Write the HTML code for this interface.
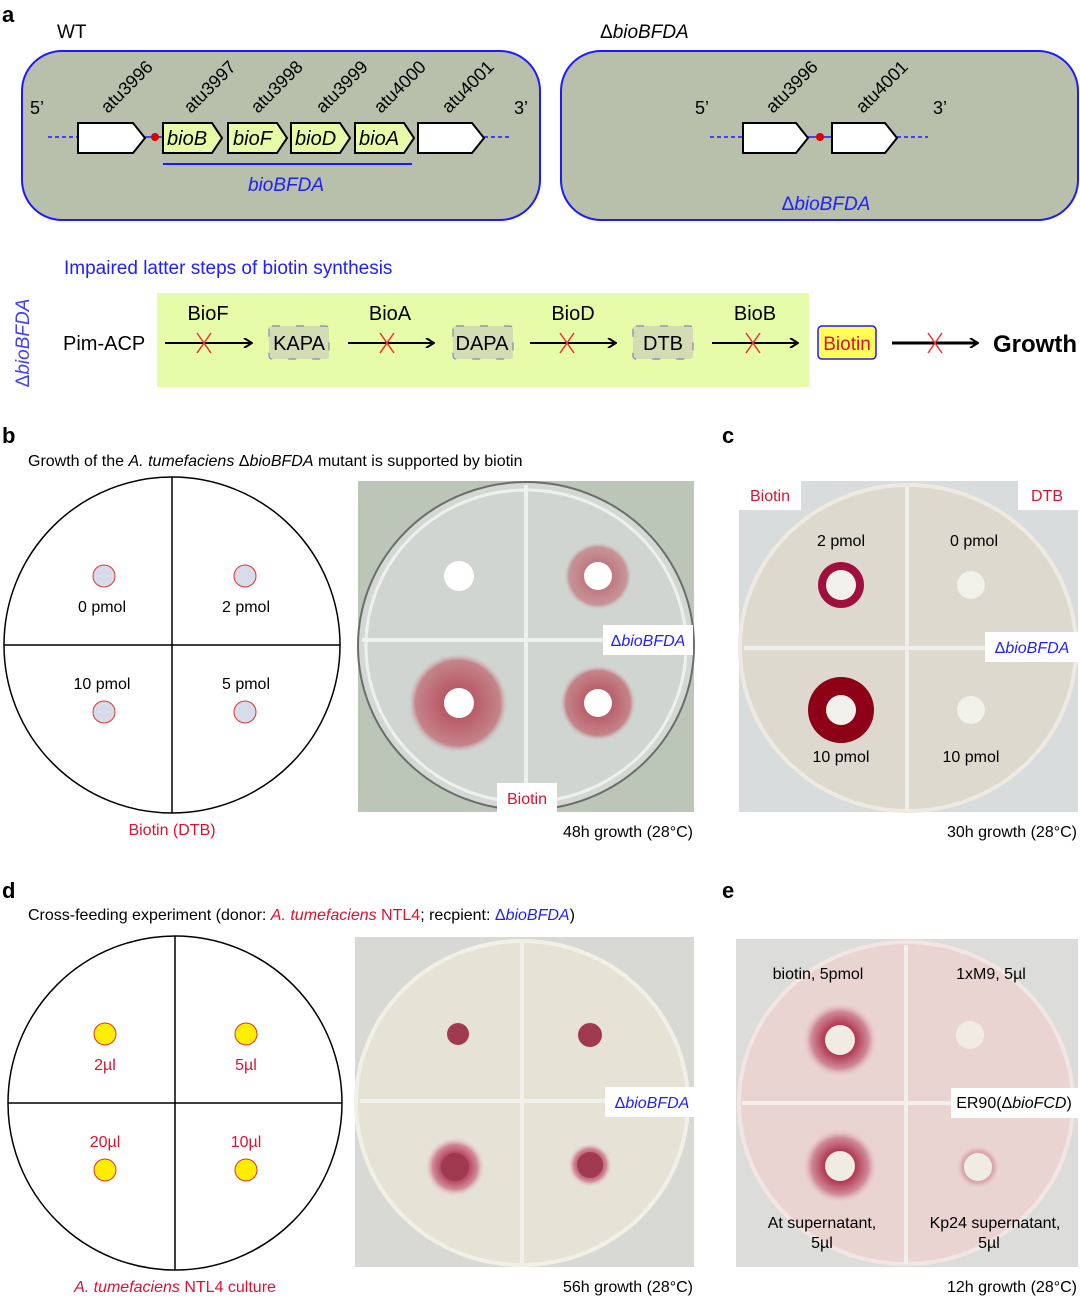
<!DOCTYPE html>
<html><head><meta charset="utf-8"><style>
html,body{margin:0;padding:0;background:#fff}
svg{display:block;font-family:"Liberation Sans",Arial,sans-serif}
</style></head><body>
<svg width="1080" height="1298" viewBox="0 0 1080 1298" xmlns="http://www.w3.org/2000/svg">
<defs>
<radialGradient id="halo1"><stop offset="0.3" stop-color="#b85a66"/><stop offset="0.85" stop-color="#c4848a"/><stop offset="1" stop-color="#d0c8c8" stop-opacity="0"/></radialGradient>
<radialGradient id="haloE"><stop offset="0.3" stop-color="#a8203f"/><stop offset="0.75" stop-color="#d08a98"/><stop offset="1" stop-color="#ecd6d6" stop-opacity="0"/></radialGradient>
<marker id="ah" markerWidth="10" markerHeight="10" refX="9" refY="5" orient="auto" markerUnits="userSpaceOnUse"><path d="M1,0 L9,5 L1,10" fill="none" stroke="#000" stroke-width="2"/></marker>
</defs>
<!-- Panel a -->
<text x="2" y="22" font-size="22" font-weight="bold">a</text>
<text x="57" y="38" font-size="19">WT</text>
<text x="600" y="38" font-size="19">Δ<tspan font-style="italic">bioBFDA</tspan></text>
<rect x="22" y="51" width="518" height="169" rx="40" fill="#b8bfaa" stroke="#1a1aff" stroke-width="2"/>
<rect x="561" y="51" width="517" height="169" rx="40" fill="#b8bfaa" stroke="#1a1aff" stroke-width="2"/>
<g stroke="#1a1aff" stroke-width="1.5" stroke-dasharray="4,3"><line x1="48" y1="137" x2="78" y2="137"/><line x1="484" y1="137" x2="510" y2="137"/><line x1="710" y1="137" x2="743" y2="137"/><line x1="897" y1="137" x2="928" y2="137"/></g>
<g stroke="#1a1aff" stroke-width="1.5"><line x1="145" y1="137" x2="163" y2="137"/><line x1="808" y1="137" x2="832" y2="137"/></g>
<g stroke="#000" stroke-width="2">
<polygon points="78,123 133,123 145,138 133,153 78,153" fill="#fff"/>
<polygon points="163,123 212,123 222,138 212,153 163,153" fill="#e6fca9"/>
<polygon points="228,123 277,123 287,138 277,153 228,153" fill="#e6fca9"/>
<polygon points="291,123 340,123 350,138 340,153 291,153" fill="#e6fca9"/>
<polygon points="355,123 404,123 414,138 404,153 355,153" fill="#e6fca9"/>
<polygon points="418,123 472,123 484,138 472,153 418,153" fill="#fff"/>
<polygon points="743,123 796,123 808,138 796,153 743,153" fill="#fff"/>
<polygon points="832,123 885,123 897,138 885,153 832,153" fill="#fff"/>
</g>
<circle cx="155" cy="137" r="4" fill="#d00"/><circle cx="820" cy="137" r="4" fill="#d00"/>
<g font-size="20" font-style="italic"><text x="167" y="145">bioB</text><text x="233" y="145">bioF</text><text x="295" y="145">bioD</text><text x="359" y="145">bioA</text></g>
<line x1="163" y1="164" x2="412" y2="164" stroke="#1a1aff" stroke-width="2"/>
<text x="286" y="191" font-size="19" font-style="italic" fill="#2020ff" text-anchor="middle">bioBFDA</text>
<text x="826" y="210" font-size="19" fill="#2020ff" text-anchor="middle">Δ<tspan font-style="italic">bioBFDA</tspan></text>
<g font-size="18"><text x="30" y="114">5’</text><text x="514" y="114">3’</text><text x="695" y="114">5’</text><text x="933" y="114">3’</text>
<text transform="translate(108,114) rotate(-45)">atu3996</text>
<text transform="translate(191,114) rotate(-45)">atu3997</text>
<text transform="translate(258,114) rotate(-45)">atu3998</text>
<text transform="translate(323,114) rotate(-45)">atu3999</text>
<text transform="translate(381,114) rotate(-45)">atu4000</text>
<text transform="translate(449,114) rotate(-45)">atu4001</text>
<text transform="translate(773,114) rotate(-45)">atu3996</text>
<text transform="translate(863,114) rotate(-45)">atu4001</text></g>
<!-- pathway -->
<text x="64" y="274" font-size="19" fill="#2020ff">Impaired latter steps of biotin synthesis</text>
<rect x="157" y="293" width="652" height="94" fill="#e6fca9"/>
<text transform="translate(29,343) rotate(-90)" font-size="19" fill="#4040ff" text-anchor="middle">Δ<tspan font-style="italic">bioBFDA</tspan></text>
<text x="63" y="350" font-size="20">Pim-ACP</text>
<g font-size="20" text-anchor="middle"><text x="208" y="320">BioF</text><text x="390" y="320">BioA</text><text x="573" y="320">BioD</text><text x="755" y="320">BioB</text></g>
<g stroke="#000" stroke-width="2" marker-end="url(#ah)"><line x1="165" y1="343" x2="252" y2="343"/><line x1="348" y1="343" x2="434" y2="343"/><line x1="530" y1="343" x2="616" y2="343"/><line x1="712" y1="343" x2="798" y2="343"/><line x1="892" y1="343" x2="978" y2="343" stroke-width="3"/></g>
<g stroke="#f03030" stroke-width="1.5"><path d="M197,333 L211,353 M211,333 L197,353"/><path d="M380,333 L394,353 M394,333 L380,353"/><path d="M560,333 L574,353 M574,333 L560,353"/><path d="M746,333 L760,353 M760,333 L746,353"/><path d="M928,333 L942,353 M942,333 L928,353"/></g>
<g fill="#d4dcb4" stroke="#7a8abb" stroke-dasharray="8,16" stroke-width="1.2"><rect x="269" y="326" width="60" height="33" rx="3"/><rect x="453" y="326" width="60" height="33" rx="3"/><rect x="633" y="326" width="60" height="33" rx="3"/></g>
<g font-size="20" text-anchor="middle"><text x="299" y="350">KAPA</text><text x="482" y="350">DAPA</text><text x="663" y="350">DTB</text></g>
<rect x="818" y="326" width="58" height="33" rx="4" fill="#ffff55" stroke="#1a1aff" stroke-width="1.5"/>
<text x="847" y="350" font-size="19" fill="#e01030" text-anchor="middle">Biotin</text>
<text x="993" y="352" font-size="24" font-weight="bold">Growth</text>
<!-- b -->
<text x="2" y="443" font-size="22" font-weight="bold">b</text>
<text x="28" y="466" font-size="16">Growth of the <tspan font-style="italic">A. tumefaciens</tspan> Δ<tspan font-style="italic">bioBFDA</tspan> mutant is supported by biotin</text>
<circle cx="172" cy="645" r="168" fill="#fff" stroke="#000" stroke-width="1.5"/>
<line x1="4" y1="645" x2="340" y2="645" stroke="#000" stroke-width="1.5"/><line x1="172" y1="477" x2="172" y2="813" stroke="#000" stroke-width="1.5"/>
<g fill="#d8dcea" stroke="#e03030" stroke-width="1"><circle cx="104" cy="576" r="11"/><circle cx="245" cy="576" r="11"/><circle cx="104" cy="712" r="11"/><circle cx="245" cy="712" r="11"/></g>
<g font-size="16" text-anchor="middle"><text x="102" y="612">0 pmol</text><text x="246" y="612">2 pmol</text><text x="102" y="689">10 pmol</text><text x="246" y="689">5 pmol</text></g>
<text x="172" y="835" font-size="16" fill="#e01030" text-anchor="middle">Biotin (DTB)</text>
<rect x="358" y="481" width="336" height="331" fill="#bcc6b8"/>
<ellipse cx="526" cy="646" rx="168" ry="164" fill="#d4d8d4" stroke="#6a6e6a" stroke-width="2"/>
<ellipse cx="526" cy="646" rx="160" ry="156" fill="#d0d5d1" stroke="#eef0ee" stroke-width="3"/>
<circle cx="458" cy="703" r="50" fill="url(#halo1)"/><circle cx="598" cy="703" r="38" fill="url(#halo1)"/><circle cx="598" cy="576" r="34" fill="url(#halo1)" opacity="0.8"/>
<g fill="#fff"><circle cx="459" cy="576" r="15"/><circle cx="598" cy="576" r="14"/><circle cx="459" cy="703" r="15"/><circle cx="598" cy="703" r="14"/></g>
<g stroke="#eef2ee" stroke-width="4"><line x1="526" y1="485" x2="526" y2="808"/><line x1="362" y1="640" x2="690" y2="640"/></g>
<rect x="603" y="625" width="90" height="30" fill="#fff"/><text x="648" y="646" font-size="16" fill="#2020ff" text-anchor="middle">Δ<tspan font-style="italic">bioBFDA</tspan></text>
<rect x="497" y="783" width="60" height="30" fill="#fff"/><text x="527" y="804" font-size="16" fill="#e01030" text-anchor="middle">Biotin</text>
<text x="693" y="837" font-size="16" text-anchor="end">48h growth (28°C)</text>
<!-- c -->
<text x="722" y="443" font-size="22" font-weight="bold">c</text>
<rect x="739" y="481" width="339" height="331" fill="#d8dcdc"/>
<ellipse cx="908" cy="648" rx="168" ry="163" fill="#ddd9cf" stroke="#eeeae2" stroke-width="4"/>
<circle cx="841" cy="585" r="23" fill="#a0103e"/><circle cx="841" cy="710" r="33" fill="#8e0016"/>
<g fill="#f2f0ea"><circle cx="841" cy="585" r="15"/><circle cx="841" cy="710" r="15"/><circle cx="971" cy="585" r="14"/><circle cx="971" cy="710" r="14"/></g>
<g stroke="#f0eee8" stroke-width="4"><line x1="907" y1="487" x2="907" y2="810"/><line x1="744" y1="648" x2="1072" y2="648"/></g>
<rect x="739" y="481" width="62" height="29" fill="#fff"/><text x="770" y="501" font-size="16" fill="#e01030" text-anchor="middle">Biotin</text>
<rect x="1018" y="481" width="60" height="29" fill="#fff"/><text x="1047" y="501" font-size="16" fill="#e01030" text-anchor="middle">DTB</text>
<rect x="985" y="632" width="93" height="30" fill="#fff"/><text x="1032" y="653" font-size="16" fill="#2020ff" text-anchor="middle">Δ<tspan font-style="italic">bioBFDA</tspan></text>
<g font-size="16" text-anchor="middle"><text x="841" y="546">2 pmol</text><text x="974" y="546">0 pmol</text><text x="841" y="762">10 pmol</text><text x="971" y="762">10 pmol</text></g>
<text x="1077" y="837" font-size="16" text-anchor="end">30h growth (28°C)</text>
<!-- d -->
<text x="2" y="898" font-size="22" font-weight="bold">d</text>
<text x="28" y="920" font-size="16">Cross-feeding experiment (donor: <tspan fill="#e01030"><tspan font-style="italic">A. tumefaciens</tspan> NTL4</tspan>; recpient: <tspan fill="#2020ff">Δ<tspan font-style="italic">bioBFDA</tspan></tspan>)</text>
<circle cx="175" cy="1103" r="167" fill="#fff" stroke="#000" stroke-width="1.5"/>
<line x1="8" y1="1103" x2="342" y2="1103" stroke="#000" stroke-width="1.5"/><line x1="175" y1="936" x2="175" y2="1270" stroke="#000" stroke-width="1.5"/>
<g fill="#ffee00" stroke="#e03030" stroke-width="1"><circle cx="105" cy="1034" r="11"/><circle cx="246" cy="1034" r="11"/><circle cx="105" cy="1170" r="11"/><circle cx="246" cy="1170" r="11"/></g>
<g font-size="16" fill="#e01030" text-anchor="middle"><text x="105" y="1070">2µl</text><text x="246" y="1070">5µl</text><text x="105" y="1147">20µl</text><text x="246" y="1147">10µl</text></g>
<text x="175" y="1292" font-size="16" fill="#e01030" text-anchor="middle"><tspan font-style="italic">A. tumefaciens</tspan> NTL4 culture</text>
<rect x="355" y="937" width="339" height="330" fill="#d8d8d4"/>
<ellipse cx="522" cy="1103" rx="166" ry="162" fill="#e6e2d6" stroke="#f2efe6" stroke-width="4"/>
<circle cx="455" cy="1167" r="30" fill="url(#haloE)"/><circle cx="590" cy="1165" r="22" fill="url(#haloE)"/>
<g fill="#a03a50"><circle cx="458" cy="1034" r="11"/><circle cx="590" cy="1035" r="12"/><circle cx="455" cy="1167" r="14"/><circle cx="590" cy="1165" r="13"/></g>
<g stroke="#f2f0ea" stroke-width="4"><line x1="522" y1="943" x2="522" y2="1265"/><line x1="360" y1="1101" x2="690" y2="1101"/></g>
<rect x="605" y="1087" width="89" height="30" fill="#fff"/><text x="652" y="1108" font-size="16" fill="#2020ff" text-anchor="middle">Δ<tspan font-style="italic">bioBFDA</tspan></text>
<text x="693" y="1292" font-size="16" text-anchor="end">56h growth (28°C)</text>
<!-- e -->
<text x="722" y="898" font-size="22" font-weight="bold">e</text>
<rect x="736" y="939" width="342" height="328" fill="#dcdcda"/>
<ellipse cx="906" cy="1103" rx="167" ry="161" fill="#ead4d2" stroke="#f2e6e4" stroke-width="4"/>
<circle cx="840" cy="1040" r="38" fill="url(#haloE)"/><circle cx="840" cy="1166" r="38" fill="url(#haloE)"/><circle cx="978" cy="1167" r="22" fill="url(#haloE)" opacity="0.5"/>
<g fill="#f0ece4"><circle cx="840" cy="1040" r="15"/><circle cx="840" cy="1166" r="15"/><circle cx="970" cy="1035" r="14"/><circle cx="978" cy="1167" r="14"/></g>
<g stroke="#f4eeec" stroke-width="4"><line x1="906" y1="945" x2="906" y2="1264"/><line x1="742" y1="1103" x2="1070" y2="1103"/></g>
<rect x="951" y="1088" width="127" height="30" fill="#fff"/><text x="1014" y="1108" font-size="16" text-anchor="middle">ER90(Δ<tspan font-style="italic">bioFCD</tspan>)</text>
<g font-size="16" text-anchor="middle"><text x="818" y="979">biotin, 5pmol</text><text x="991" y="979">1xM9, 5µl</text><text x="822" y="1228">At supernatant,</text><text x="822" y="1248">5µl</text><text x="995" y="1228">Kp24 supernatant,</text><text x="989" y="1248">5µl</text></g>
<text x="1077" y="1292" font-size="16" text-anchor="end">12h growth (28°C)</text>
</svg>
</body></html>
